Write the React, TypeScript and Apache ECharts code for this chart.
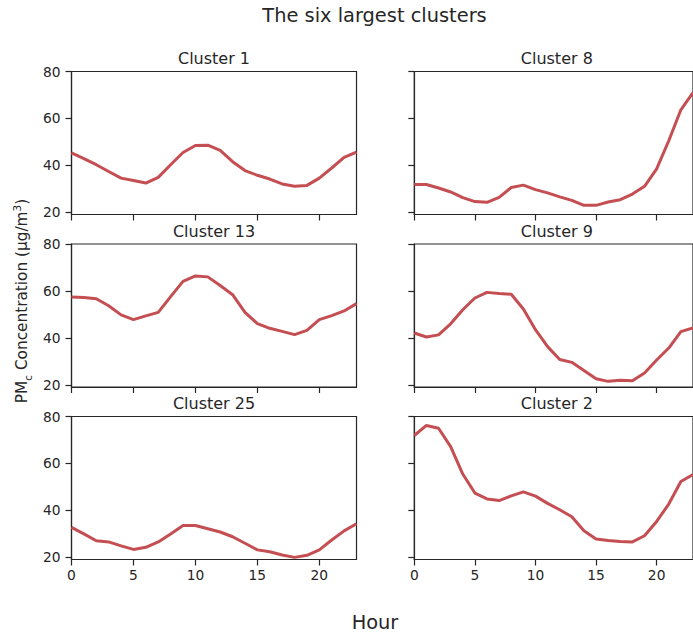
import React, { useEffect, useRef } from "react";
import * as echarts from "echarts";

const hours = [0, 1, 2, 3, 4, 5, 6, 7, 8, 9, 10, 11, 12, 13, 14, 15, 16, 17, 18, 19, 20, 21, 22, 23];

const clusterNames = ["Cluster 1", "Cluster 8", "Cluster 13", "Cluster 9", "Cluster 25", "Cluster 2"];

const cluster1 = [45.3, 42.9, 40.3, 37.4, 34.6, 33.6, 32.5, 34.9, 40.3, 45.5, 48.5, 48.6, 46.4, 41.6, 37.8, 35.8, 34.2, 32.1, 31.1, 31.5, 34.6, 38.9, 43.4, 45.7];
const cluster8 = [31.9, 31.9, 30.4, 28.7, 26.3, 24.6, 24.3, 26.4, 30.6, 31.6, 29.7, 28.3, 26.6, 25.1, 23.0, 23.0, 24.4, 25.4, 27.8, 31.1, 38.5, 50.5, 63.7, 71.0];
const cluster13 = [57.4, 57.2, 56.7, 53.7, 49.8, 47.8, 49.4, 50.9, 57.6, 64.1, 66.4, 66.0, 62.3, 58.4, 50.9, 46.1, 44.1, 42.8, 41.4, 43.2, 47.8, 49.5, 51.5, 54.6];
const cluster9 = [42.1, 40.4, 41.3, 46.0, 52.0, 57.0, 59.4, 58.9, 58.6, 52.3, 43.5, 36.3, 30.8, 29.6, 26.1, 22.6, 21.5, 22.0, 21.8, 25.1, 30.6, 35.7, 42.7, 44.3];
const cluster25 = [32.8, 30.0, 27.1, 26.6, 24.9, 23.4, 24.3, 26.6, 30.0, 33.6, 33.6, 32.2, 30.8, 28.8, 26.0, 23.2, 22.4, 21.0, 20.0, 20.9, 23.2, 27.4, 31.3, 34.3];
const cluster2 = [71.9, 76.2, 75.0, 67.2, 55.5, 47.4, 44.9, 44.2, 46.2, 47.9, 46.1, 43.0, 40.3, 37.3, 31.3, 27.8, 27.2, 26.8, 26.6, 29.2, 35.3, 42.7, 52.3, 55.3];

const clusterValues = [cluster1, cluster8, cluster13, cluster9, cluster25, cluster2];

const xTicks = [0, 5, 10, 15, 20];
const yTicks = [20, 40, 60, 80];

const chartTitle = "The six largest clusters";
const xLabel = "Hour";
const yLabel = "PM{sub|c} Concentration (µg/m{sup|3})";

const FONT = "DejaVu Sans";
const INK = "#262626";
const LINE = "#c44e52";

const rowTops = [71.5, 244, 416.5];
const colLefts = [71.5, 414.3];
const panelW = 285;
const panelH = 143;

export default function App() {
  const ref = useRef<HTMLDivElement>(null);

  useEffect(() => {
    if (!ref.current) return;
    const chart = echarts.init(ref.current, null, { renderer: "svg" });

    const grids: any[] = [];
    const xAxes: any[] = [];
    const yAxes: any[] = [];
    const series: any[] = [];
    const graphics: any[] = [];

    clusterValues.forEach((vals, i) => {
      const row = Math.floor(i / 2);
      const col = i % 2;
      grids.push({
        left: colLefts[col],
        top: rowTops[row],
        width: panelW,
        height: panelH,
        show: true,
        borderColor: INK,
        borderWidth: 1.2,
        backgroundColor: "transparent",
        containLabel: false,
      });
      xAxes.push({
        gridIndex: i,
        type: "value",
        min: 0,
        max: 23,
        axisLine: { show: true, onZero: false, lineStyle: { color: INK, width: 1.2 } },
        axisTick: { show: true, inside: false, length: 6, customValues: xTicks, lineStyle: { color: INK, width: 1.2 } },
        axisLabel: {
          show: row === 2,
          customValues: xTicks,
          color: INK,
          fontFamily: FONT,
          fontSize: 13.8,
          margin: 8,
        },
        splitLine: { show: false },
      });
      yAxes.push({
        gridIndex: i,
        type: "value",
        min: 19.1,
        max: 80,
        axisLine: { show: true, onZero: false, lineStyle: { color: INK, width: 1.2 } },
        axisTick: { show: true, inside: false, length: 6, customValues: yTicks, lineStyle: { color: INK, width: 1.2 } },
        axisLabel: {
          show: col === 0,
          customValues: yTicks,
          color: INK,
          fontFamily: FONT,
          fontSize: 13.8,
          margin: 11,
        },
        splitLine: { show: false },
      });
      series.push({
        type: "line",
        xAxisIndex: i,
        yAxisIndex: i,
        data: hours.map((h, j) => [h, vals[j]]),
        symbol: "none",
        showSymbol: false,
        lineStyle: { color: LINE, width: 3 },
        itemStyle: { color: LINE },
      });
      graphics.push({
        type: "text",
        x: colLefts[col] + panelW / 2,
        y: rowTops[row] - 13,
        style: {
          text: clusterNames[i],
          align: "center",
          verticalAlign: "middle",
          fill: INK,
          font: `16px "${FONT}"`,
        },
      });
    });

    graphics.push({
      type: "text",
      x: 374.5,
      y: 15,
      style: { text: chartTitle, align: "center", verticalAlign: "middle", fill: INK, font: `19.4px "${FONT}"` },
    });
    graphics.push({
      type: "text",
      x: 375,
      y: 622,
      style: { text: xLabel, align: "center", verticalAlign: "middle", fill: INK, font: `19.4px "${FONT}"` },
    });
    graphics.push({
      type: "text",
      x: 22,
      y: 301,
      rotation: Math.PI / 2,
      style: {
        text: yLabel,
        align: "center",
        verticalAlign: "middle",
        fill: INK,
        fontFamily: FONT,
        fontSize: 15.3,
        lineHeight: 22,
        rich: {
          sub: { fontFamily: FONT, fontSize: 10.5, fill: INK, verticalAlign: "bottom", lineHeight: 22 },
          sup: { fontFamily: FONT, fontSize: 10.5, fill: INK, verticalAlign: "top", lineHeight: 22 },
        },
      },
    });

    chart.setOption({
      animation: false,
      backgroundColor: "#ffffff",
      grid: grids,
      xAxis: xAxes,
      yAxis: yAxes,
      series,
      graphic: graphics,
    });

    return () => chart.dispose();
  }, []);

  return (
    <div
      ref={ref}
      style={{ position: "absolute", left: 0, top: 0, width: 693, height: 634 }}
    />
  );
}
